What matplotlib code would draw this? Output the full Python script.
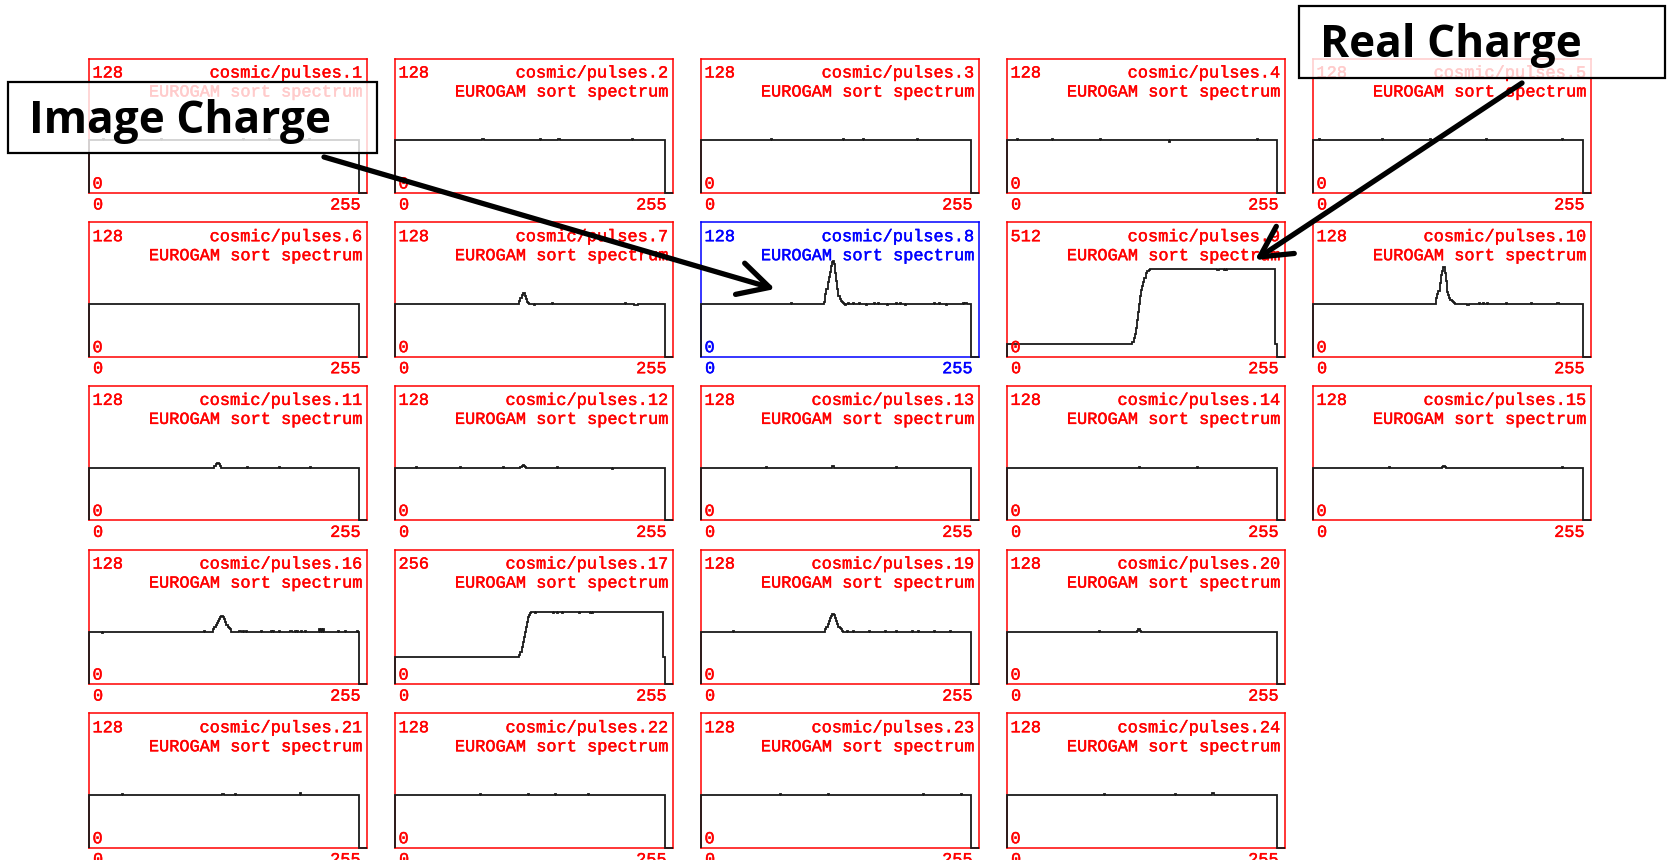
import matplotlib
matplotlib.use('Agg')
from matplotlib import pyplot as plt
from matplotlib.patches import Rectangle, FancyArrowPatch
import matplotlib.patheffects as pe
import numpy as np

W, H = 1667, 860

panel_ids = [1, 2, 3, 4, 5, 6, 7, 8, 9, 10, 11, 12, 13, 14, 15, 16, 17, 19, 20, 21, 22, 23, 24]
grid_row = [0, 0, 0, 0, 0, 1, 1, 1, 1, 1, 2, 2, 2, 2, 2, 3, 3, 3, 3, 4, 4, 4, 4]
grid_col = [0, 1, 2, 3, 4, 0, 1, 2, 3, 4, 0, 1, 2, 3, 4, 0, 1, 2, 3, 0, 1, 2, 3]
y_max = [128, 128, 128, 128, 128, 128, 128, 128, 512, 128, 128, 128,
         128, 128, 128, 128, 256, 128, 128, 128, 128, 128, 128]
base_level = [50, 50, 50, 50, 50, 50, 50, 50, 49, 50, 50, 50,
              50, 50, 50, 50, 52, 50, 50, 50, 50, 50, 50]
first_empty = 249  # channels from here to 255 are empty

# pulses sitting on the flat baseline: first channel, counts
pulse_start = {7: 115, 8: 114, 10: 114, 11: 116, 12: 116, 13: 121,
               15: 119, 16: 115, 19: 115, 20: 120}
pulse_counts = {
    7: [53, 56, 59, 61, 61, 58, 55, 52, 51],
    8: [52, 60, 64, 71, 76, 81, 86, 90, 91, 88, 80, 72, 64, 58, 55, 53, 52, 51],
    10: [56, 60, 63, 70, 78, 82, 85, 85, 80, 72, 62, 59, 56, 54, 53, 52, 51],
    11: [52, 54, 55, 55, 54, 52],
    12: [51, 52, 53, 52, 51],
    13: [52, 52],
    15: [51, 52, 52, 51],
    16: [52, 54, 56, 58, 60, 62, 64, 65, 65, 64, 62, 59, 56, 54, 53, 52],
    19: [52, 54, 57, 60, 63, 65, 67, 67, 66, 63, 60, 57, 54, 53, 52, 51],
    20: [51, 52, 52, 51],
}

# step spectra (real charge): rising edge, then a plateau up to channel 246
step_start = {9: 116, 17: 115}
step_rise = {
    9: [55, 70, 87, 110, 138, 170, 202, 230, 253, 270, 285, 300, 317, 325, 328, 330],
    17: [55, 62, 71, 80, 90, 100, 109, 118, 127, 132, 136, 138],
}
step_plateau = {9: 333, 17: 137}
step_end = 247

# single channel glitches: (channel, counts)
glitches = {
    1: [(13, 51), (67, 51), (142, 51), (166, 51), (203, 51)],
    2: [(81, 51), (134, 51), (151, 51), (219, 51)],
    3: [(65, 51), (131, 51), (150, 51), (199, 51)],
    4: [(10, 51), (42, 51), (86, 51), (150, 49), (231, 51)],
    5: [(6, 51), (64, 51), (108, 51), (160, 51), (230, 51)],
    7: [(128, 49), (145, 51), (212, 51), (221, 49), (222, 49), (223, 49)],
    8: [(83, 51), (133, 49), (136, 51), (140, 51), (146, 51), (152, 49), (160, 51),
        (163, 51), (172, 49), (180, 51), (184, 51), (188, 49), (215, 51), (220, 51),
        (226, 49), (242, 51), (244, 51)],
    9: [(194, 330), (195, 330), (200, 330), (202, 331)],
    10: [(142, 49), (143, 49), (153, 51), (157, 51), (161, 51), (178, 51), (201, 51),
         (225, 51), (226, 51)],
    11: [(146, 51), (175, 51), (204, 51)],
    12: [(20, 51), (60, 51), (100, 51), (150, 51), (200, 49)],
    13: [(60, 51), (180, 51)],
    14: [(122, 51), (175, 51)],
    15: [(70, 51), (230, 51)],
    16: [(12, 49), (106, 51), (139, 51), (142, 51), (145, 51), (159, 51), (168, 51),
         (170, 51), (175, 51), (186, 51), (190, 51), (192, 51), (196, 51), (199, 51),
         (212, 52), (214, 52), (216, 52), (230, 51), (236, 51), (247, 51)],
    17: [(66, 51), (82, 51), (129, 136), (146, 136), (150, 136), (154, 136),
         (165, 138), (170, 136), (180, 136), (182, 136)],
    19: [(30, 51), (135, 51), (140, 51), (155, 51), (170, 51), (180, 51), (195, 51),
         (200, 51), (215, 51), (230, 51)],
    20: [(85, 51)],
    21: [(31, 51), (123, 51), (124, 51), (135, 51), (195, 52)],
    22: [(79, 51), (123, 51), (148, 51), (178, 51)],
    23: [(73, 51), (117, 51), (205, 51), (240, 51)],
    24: [(90, 51), (155, 51), (189, 52), (190, 52)],
}

# panel grid, in pixels
x0, dx, pw = 88.5, 306.0, 278.0
y0, dy, ph = 58.5, 163.7, 134.5

mono = 'Liberation Mono'
fs = 12.2


def fx(x):
    return x / W


def fy(y):
    return 1 - y / H


def spectrum(k, pid):
    counts = np.zeros(256)
    counts[:first_empty] = base_level[k]
    if pid in step_start:
        s = step_start[pid]
        rise = step_rise[pid]
        counts[s:s + len(rise)] = rise
        counts[s + len(rise):step_end] = step_plateau[pid]
    if pid in pulse_start:
        s = pulse_start[pid]
        counts[s:s + len(pulse_counts[pid])] = pulse_counts[pid]
    for ch, v in glitches.get(pid, []):
        counts[ch] = v
    return counts


def label(x, y, s, col, ha):
    t = fig.text(fx(x), fy(y), s, color=col, family=mono, size=fs,
                 va='baseline', ha=ha)
    # the bitmap font is a bit heavier than Liberation Mono
    t.set_path_effects([pe.withStroke(linewidth=0.3, foreground=col)])
    return t


fig = plt.figure(figsize=(W / 100, H / 100), dpi=100)
fig.patch.set_facecolor('white')

for k, pid in enumerate(panel_ids):
    left = x0 + dx * grid_col[k]
    top = y0 + dy * grid_row[k]
    col = '#0000ff' if pid == 8 else '#ff0000'

    ax = fig.add_axes([fx(left), fy(top + ph), pw / W, ph / H])
    ax.set_xlim(0, 256)
    ax.set_ylim(0, y_max[k])
    ax.set_xticks([])
    ax.set_yticks([])
    for sp in ax.spines.values():
        sp.set_color(col)
        sp.set_linewidth(1.1)
    ax.stairs(spectrum(k, pid), np.arange(257), baseline=0, color='#1a1a1a',
              lw=1.3, zorder=3, clip_on=False)

    label(left + 4, top + 19, str(y_max[k]), col, 'left')
    label(left + pw - 5, top + 19, 'cosmic/pulses.%d' % pid, col, 'right')
    label(left + pw - 5, top + 38, 'EUROGAM sort spectrum', col, 'right')
    label(left + 4, top + ph - 4.5, '0', col, 'left')
    label(left + 4.5, top + ph + 16.5, '0', col, 'left')
    label(left + pw - 6, top + ph + 16.5, '255', col, 'right')

# callout boxes
callouts = [('Image Charge', 8, 82, 377, 153, 29, 133),
            ('Real Charge', 1299, 6, 1665, 78, 1320, 57)]
for text, bx0, by0, bx1, by1, tx, ty in callouts:
    box = Rectangle((fx(bx0), fy(by1)), (bx1 - bx0) / W, (by1 - by0) / H,
                    transform=fig.transFigure, facecolor=(1, 1, 1, 0.8),
                    edgecolor='black', lw=1.6, zorder=5)
    fig.add_artist(box)
    fig.text(fx(tx), fy(ty), text, family='Open Sans', weight='bold', size=31.8,
             va='baseline', ha='left', color='black', zorder=6)

arrows = [((324, 157), (775, 289)), ((1522, 83), (1255, 260))]
for (ax0, ay0), (ax1, ay1) in arrows:
    arr = FancyArrowPatch((fx(ax0), fy(ay0)), (fx(ax1), fy(ay1)),
                          transform=fig.transFigure,
                          arrowstyle='->,head_length=0.85,head_width=0.45',
                          mutation_scale=26, lw=3.8, color='black',
                          shrinkA=0, shrinkB=0, zorder=7)
    fig.add_artist(arr)

fig.savefig('out.png', dpi=100)
